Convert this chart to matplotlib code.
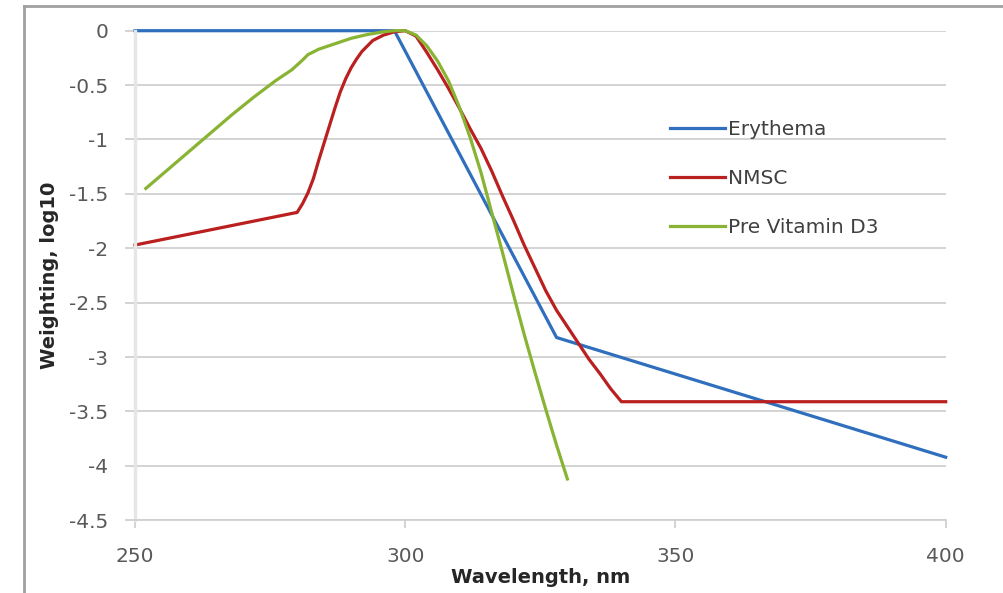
import numpy as np
import matplotlib
matplotlib.use("Agg")
import matplotlib.pyplot as plt
from matplotlib.lines import Line2D

plt.rcParams['font.family'] = ['DejaVu Sans']
plt.rcParams['axes.unicode_minus'] = False

# -------------------------------
# Data
# -------------------------------
ery_x = [250, 298, 328, 400]
ery_y = [0, 0, -2.82, -3.92]

nmsc_x = [250, 280, 281, 282, 283, 284, 285, 286, 287, 288, 289, 290, 291, 292,
          294, 296, 298, 300, 302, 304, 306, 308, 310, 312, 314, 316, 318, 320,
          322, 324, 326, 328, 330, 332, 334, 336, 338, 340, 400]
nmsc_y = [-1.97, -1.67, -1.59, -1.49, -1.36, -1.19, -1.03, -0.87, -0.71, -0.56,
          -0.44, -0.34, -0.26, -0.19, -0.09, -0.04, -0.01, 0.0, -0.05, -0.20,
          -0.36, -0.53, -0.71, -0.90, -1.08, -1.29, -1.52, -1.74, -1.97, -2.18,
          -2.39, -2.57, -2.72, -2.87, -3.02, -3.15, -3.29, -3.41, -3.41]

vitd_x = [252, 256, 260, 264, 268, 272, 276, 279, 281, 282, 284, 287, 290, 293,
          296, 298, 300, 302, 304, 306, 308, 310, 312, 314, 316, 318, 320, 322,
          324, 326, 328, 330]
vitd_y = [-1.45, -1.28, -1.11, -0.94, -0.77, -0.61, -0.46, -0.36, -0.27, -0.22,
          -0.17, -0.12, -0.07, -0.035, -0.01, 0.0, 0.0, -0.04, -0.14, -0.28,
          -0.46, -0.70, -0.98, -1.30, -1.67, -2.04, -2.42, -2.79, -3.14, -3.48,
          -3.81, -4.12]

x_ticks = [250, 300, 350, 400]
y_ticks = [0, -0.5, -1, -1.5, -2, -2.5, -3, -3.5, -4, -4.5]
y_tick_labels = ['0', '-0.5', '-1', '-1.5', '-2', '-2.5', '-3', '-3.5', '-4', '-4.5']

# -------------------------------
# Plot
# -------------------------------
fig = plt.figure(figsize=(10.04, 5.93), dpi=100)
ax = fig.add_axes([135 / 1004, 1 - 520.3 / 593, 810.7 / 1004, 489.6 / 593])

grid_col = '#d0d0d0'
ax.set_axisbelow(True)
ax.yaxis.grid(True, color=grid_col, linewidth=1.3)

ax.plot(ery_x, ery_y, color='#2f6fbd', linewidth=2.3, label='Erythema', clip_on=False)
ax.plot(nmsc_x, nmsc_y, color='#b9201f', linewidth=2.3, label='NMSC', clip_on=False)
ax.plot(vitd_x, vitd_y, color='#88b333', linewidth=2.3, label='Pre Vitamin D3', clip_on=False)

ax.set_xlim(250, 400)
ax.set_ylim(-4.5, 0)
ax.set_xticks(x_ticks)
ax.set_xticklabels([str(t) for t in x_ticks])
ax.set_yticks(y_ticks)
ax.set_yticklabels(y_tick_labels)

for s in ['top', 'right']:
    ax.spines[s].set_visible(False)
ax.spines['left'].set_color('#e6e6e6')
ax.spines['left'].set_linewidth(2.4)
ax.spines['bottom'].set_color(grid_col)
ax.spines['bottom'].set_linewidth(1.3)

ax.tick_params(axis='y', direction='out', length=7.2, width=1.3, color=grid_col,
               pad=12, labelsize=14.5, labelcolor='#595959')
ax.tick_params(axis='x', direction='out', length=6, width=1.3, color=grid_col,
               pad=13, labelsize=14.5, labelcolor='#595959')

ax.set_xlabel('Wavelength, nm', fontsize=14, fontweight='bold', color='#262626')
ax.xaxis.set_label_coords(0.5, -0.098)
ax.set_ylabel('Weighting, log10', fontsize=14, fontweight='bold', color='#262626')
ax.yaxis.set_label_coords(-0.094, 0.5)

leg = ax.legend(loc='upper left', bbox_to_anchor=(670 / 1004, 1 - 120 / 593),
                bbox_transform=fig.transFigure, frameon=False, fontsize=14.5,
                handlelength=2.75, handletextpad=0.15, labelspacing=1.5,
                borderpad=0, borderaxespad=0)
for t in leg.get_texts():
    t.set_color('#404040')

# chart area border (left and top edges visible)
bc = '#a0a0a0'
fig.add_artist(Line2D([24 / 1004, 24 / 1004], [1 - 6 / 593, -0.05],
                      transform=fig.transFigure, color=bc, linewidth=2))
fig.add_artist(Line2D([24 / 1004, 1.05], [1 - 6 / 593, 1 - 6 / 593],
                      transform=fig.transFigure, color=bc, linewidth=2))

fig.savefig('out.png', dpi=100)
